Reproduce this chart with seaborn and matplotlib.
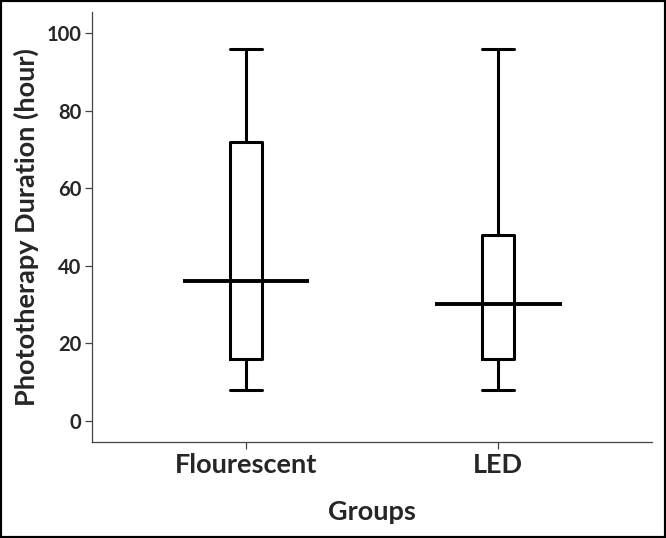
import matplotlib
matplotlib.use("Agg")
import numpy as np
import pandas as pd
import matplotlib.pyplot as plt
import seaborn as sns

# five-number summaries
groups = ["Flourescent", "LED"]
mins = [8, 8]
q1s = [16, 16]
medians = [36, 30]
q3s = [72, 48]
maxs = [96, 96]
yticks = [0, 20, 40, 60, 80, 100]

rows = []
for g, lo, a, m, b, hi in zip(groups, mins, q1s, medians, q3s, maxs):
    for v in (lo, a, m, b, hi):
        rows.append({"Groups": g, "Duration": v})
df = pd.DataFrame(rows)

sns.set_style("ticks")
plt.rcParams["font.family"] = ["Lato", "DejaVu Sans"]

fig, ax = plt.subplots(figsize=(6.66, 5.38), dpi=100)
fig.subplots_adjust(left=0.1386, right=0.9794, bottom=0.179, top=0.978)

sns.boxplot(
    data=df, x="Groups", y="Duration", ax=ax,
    width=0.128, fill=False, color="black", linecolor="black",
    linewidth=2.2, whis=(0, 100), showfliers=False,
    medianprops=dict(linewidth=2.8, gid="median"),
    capwidths=0.128,
)

# SPSS style: median line wider than the box
for ln in ax.lines:
    if ln.get_gid() == "median":
        xs = np.asarray(ln.get_xdata(), dtype=float)
        c = xs.mean()
        ln.set_xdata([c - 0.251, c + 0.251])
        ln.set_solid_capstyle("butt")

ax.set_xlim(-0.609, 1.610)
ax.set_ylim(-5.4, 105.5)
ax.set_yticks(yticks)

sns.despine(ax=ax)
for side in ["left", "bottom"]:
    ax.spines[side].set_color("#444444")
    ax.spines[side].set_linewidth(0.9)
ax.tick_params(axis="both", length=5, width=0.9, color="#444444", pad=3)
ax.tick_params(axis="y", labelsize=14.5)
ax.tick_params(axis="x", labelsize=19.5)
for t in ax.get_xticklabels() + ax.get_yticklabels():
    t.set_fontweight("bold")

ax.set_xlabel("Groups", fontsize=19.5, fontweight="bold", labelpad=17)
ax.set_ylabel("Phototherapy Duration (hour)", fontsize=19.5, fontweight="bold", labelpad=5)

fig.add_artist(plt.Rectangle((0, 0), 1, 1, transform=fig.transFigure,
                             fill=False, lw=3, ec="black"))

fig.savefig("out.png", dpi=100)
